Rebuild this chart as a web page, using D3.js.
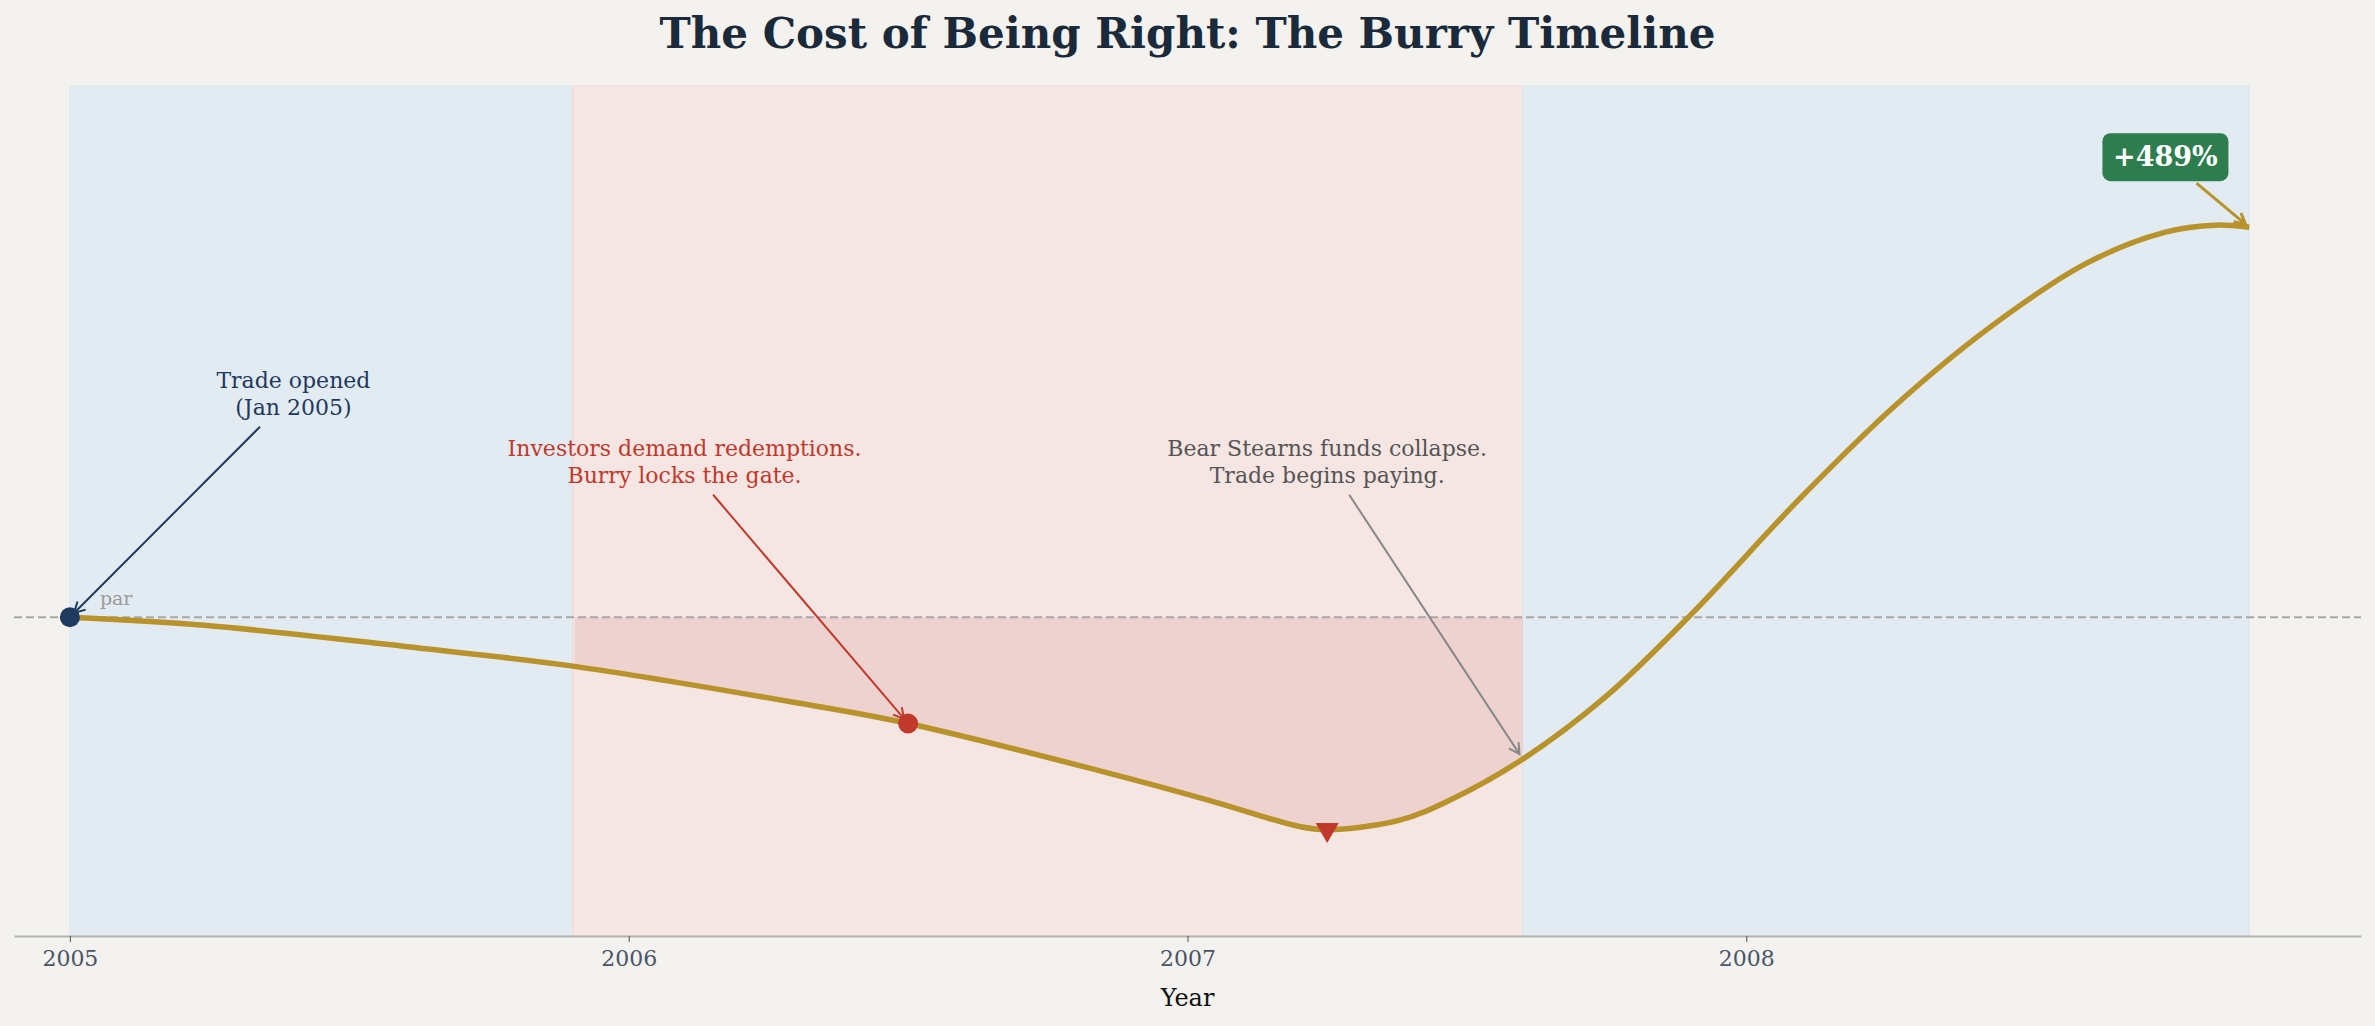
<!DOCTYPE html>
<html>
<head>
<meta charset="utf-8">
<script src="https://cdn.jsdelivr.net/npm/d3@7"></script>
<style>
  html, body { margin: 0; padding: 0; background: #F3F2EE; }
  svg { display: block; font-family: "DejaVu Serif", serif; }
</style>
</head>
<body>
<div class="plot"></div>
<script>
// fund value vs par (index, par = 0)
const years = [2005.00, 2005.24, 2005.60, 2005.90, 2006.30, 2006.50, 2006.85, 2007.04,
    2007.20, 2007.25, 2007.38, 2007.47, 2007.60, 2007.75, 2007.90, 2008.10,
    2008.27, 2008.44, 2008.61, 2008.75, 2008.84, 2008.90];
const values = [0, -1.5, -5.5, -9.2, -16.1, -20.0, -29.1, -34.5,
    -39.4, -40.0, -38.2, -34.4, -26.7, -14.8, 0.4, 22.8,
    40.2, 54.9, 66.7, 72.5, 73.8, 73.4];

// phases of the trade
const phaseNames = ['open', 'gate', 'payoff'];
const phaseStart = [2005.0, 2005.9, 2007.6];
const phaseEnd = [2005.9, 2007.6, 2008.9];

const tickYears = [2005, 2006, 2007, 2008];

const noteText = [
    ['Trade opened', '(Jan 2005)'],
    ['Investors demand redemptions.', 'Burry locks the gate.'],
    ['Bear Stearns funds collapse.', 'Trade begins paying.']
];
const noteYear = [2005.0, 2006.5, 2007.6];
const finalLabel = '+489%';

const createPlot = () => {

    const W = 2375,
        H = 1026;
    const left = 14,
        right = 2361,
        top = 86,
        bottom = 936;
    const gold = '#B8922B',
        navy = '#1F3A5F',
        red = '#C0392B',
        grey = '#888888';

    const svg = d3.select('.plot')
        .append('svg')
        .attr('width', W)
        .attr('height', H);

    svg.append('rect')
        .attr('width', W)
        .attr('height', H)
        .attr('fill', '#F3F2EE');

    const x = d3.scaleLinear()
        .domain([2004.9, 2009.1])
        .range([left, right]);

    const y = d3.scaleLinear()
        .domain([-60, 100])
        .range([bottom, top]);

    const data = years.map((d, i) => ({ year: d, value: values[i] }));
    const valueAt = yr => data.find(d => Math.abs(d.year - yr) < 1e-6).value;
    const smooth = d3.curveCatmullRom.alpha(0.5);

    // phase bands
    const spanColor = { open: '#E3EBF2', gate: '#F5E5E3', payoff: '#E3EBF2' };
    const spanEdge = { open: '#DCE5EE', gate: '#F0D8D8', payoff: '#DCE5EE' };

    svg.append('g')
        .selectAll('rect')
        .data(phaseNames)
        .enter()
        .append('rect')
        .attr('x', (d, i) => x(phaseStart[i]))
        .attr('width', (d, i) => x(phaseEnd[i]) - x(phaseStart[i]))
        .attr('y', top)
        .attr('height', bottom - top)
        .attr('fill', d => spanColor[d])
        .attr('stroke', d => spanEdge[d])
        .attr('stroke-width', 1);

    // drawdown fill inside the gated phase
    const gi = phaseNames.indexOf('gate');
    svg.append('clipPath')
        .attr('id', 'gate-clip')
        .append('rect')
        .attr('x', x(phaseStart[gi]) + 2)
        .attr('width', x(phaseEnd[gi]) - x(phaseStart[gi]) - 2)
        .attr('y', top)
        .attr('height', bottom - top);

    const area = d3.area()
        .x(d => x(d.year))
        .y0(y(0))
        .y1(d => y(d.value))
        .curve(smooth);

    svg.append('path')
        .datum(data)
        .attr('d', area)
        .attr('fill', '#E8C2C0')
        .attr('opacity', 0.55)
        .attr('clip-path', 'url(#gate-clip)');

    // par line
    svg.append('line')
        .attr('x1', left)
        .attr('x2', right)
        .attr('y1', y(0))
        .attr('y2', y(0))
        .attr('stroke', '#A8A8A8')
        .attr('stroke-width', 2)
        .attr('stroke-dasharray', '8,4');

    svg.append('text')
        .text('par')
        .attr('x', x(years[0]) + 30)
        .attr('y', y(0) - 12)
        .attr('fill', '#9A9A9A')
        .attr('font-size', '19px');

    // x axis
    const xAxis = d3.axisBottom(x)
        .tickValues(tickYears)
        .tickFormat(d3.format('d'))
        .tickSize(6)
        .tickSizeOuter(0)
        .tickPadding(8);

    const ax = svg.append('g')
        .attr('id', 'x-axis')
        .attr('transform', `translate(0, ${bottom})`)
        .call(xAxis);

    ax.select('.domain')
        .attr('stroke', '#B3B3B3')
        .attr('stroke-width', 2);
    ax.selectAll('.tick line')
        .attr('stroke', '#555');
    ax.selectAll('.tick text')
        .attr('fill', '#4A5568')
        .attr('font-size', '22px')
        .attr('font-family', '"DejaVu Serif", serif');

    svg.append('text')
        .text('Year')
        .attr('x', (left + right) / 2)
        .attr('y', 1006)
        .attr('text-anchor', 'middle')
        .attr('fill', '#111')
        .attr('font-size', '24px');

    // main line
    const line = d3.line()
        .x(d => x(d.year))
        .y(d => y(d.value))
        .curve(smooth);

    svg.append('path')
        .datum(data)
        .attr('d', line)
        .attr('fill', 'none')
        .attr('stroke', gold)
        .attr('stroke-width', 5.5);

    // markers
    svg.append('circle')
        .attr('cx', x(noteYear[0]))
        .attr('cy', y(valueAt(noteYear[0])))
        .attr('r', 10)
        .attr('fill', navy);

    svg.append('circle')
        .attr('cx', x(noteYear[1]))
        .attr('cy', y(valueAt(noteYear[1])))
        .attr('r', 10)
        .attr('fill', red);

    const low = data.reduce((a, b) => b.value < a.value ? b : a);
    svg.append('path')
        .attr('d', d3.symbol().type(d3.symbolTriangle).size(230))
        .attr('transform', `translate(${x(low.year)}, ${y(low.value)}) rotate(180)`)
        .attr('fill', red);

    // arrows
    const arrow = (x1, y1, x2, y2, color, width, shrink) => {
        const a = Math.atan2(y2 - y1, x2 - x1);
        const ex = x2 - shrink * Math.cos(a),
            ey = y2 - shrink * Math.sin(a);
        const hl = 12,
            hw = 0.5;
        const g = svg.append('g')
            .attr('stroke', color)
            .attr('stroke-width', width)
            .attr('fill', 'none');
        g.append('line')
            .attr('x1', x1).attr('y1', y1)
            .attr('x2', ex).attr('y2', ey);
        g.append('path')
            .attr('d', `M${ex - hl * Math.cos(a - hw)},${ey - hl * Math.sin(a - hw)}
                L${ex},${ey}
                L${ex - hl * Math.cos(a + hw)},${ey - hl * Math.sin(a + hw)}`);
    };

    // annotations: text x in years, first baseline in value units
    const notePos = [[2005.40, 43.2], [2006.10, 30.4], [2007.25, 30.4]];
    const noteColor = [navy, red, '#555555'];
    const arrowColor = [navy, red, grey];
    const lh = 27;

    noteText.forEach((lines, i) => {
        const cx = x(notePos[i][0]),
            b1 = y(notePos[i][1]);
        const t = svg.append('text')
            .attr('text-anchor', 'middle')
            .attr('fill', noteColor[i])
            .attr('font-size', '22px');
        lines.forEach((s, j) => {
            t.append('tspan')
                .attr('x', cx)
                .attr('y', b1 + j * lh)
                .text(s);
        });
        const tx = x(noteYear[i]),
            ty = y(valueAt(noteYear[i]));
        const cy = b1 - 8 + lh * (lines.length - 1) / 2;
        const sy = b1 + lh * (lines.length - 1) + 12;
        const k = (sy - cy) / (ty - cy);
        arrow(cx + k * (tx - cx), sy, tx, ty, arrowColor[i], 2, 6);
    });

    // final return badge
    const last = data[data.length - 1];
    const bx = x(2008.75),
        by = y(86.6);
    svg.append('rect')
        .attr('x', bx - 63)
        .attr('y', by - 24)
        .attr('width', 126)
        .attr('height', 48)
        .attr('rx', 8)
        .attr('fill', '#2E7D4F');
    svg.append('text')
        .text(finalLabel)
        .attr('x', bx)
        .attr('y', by + 9)
        .attr('text-anchor', 'middle')
        .attr('fill', '#fff')
        .attr('font-weight', 'bold')
        .attr('font-size', '27px');
    {
        const tx = x(last.year),
            ty = y(last.value);
        const sy = by + 26;
        const k = (sy - by) / (ty - by);
        arrow(bx + k * (tx - bx), sy, tx, ty, gold, 3, 5);
    }

    // title
    svg.append('text')
        .text('The Cost of Being Right: The Burry Timeline')
        .attr('x', W / 2)
        .attr('y', 48)
        .attr('text-anchor', 'middle')
        .attr('fill', '#1B2A3A')
        .attr('font-weight', 'bold')
        .attr('font-size', '42px');
}

createPlot();
</script>
</body>
</html>
